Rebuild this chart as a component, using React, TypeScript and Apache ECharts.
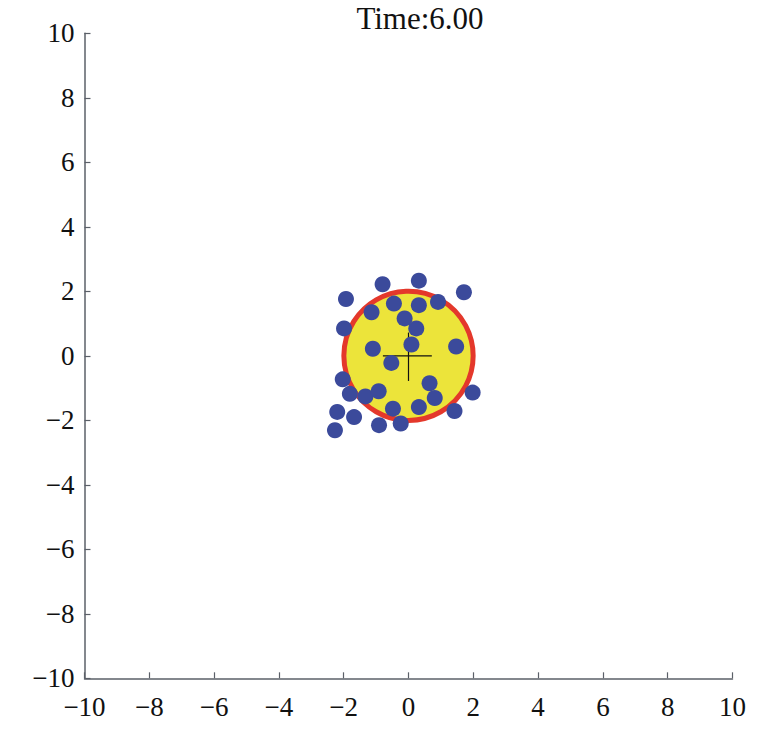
import React, { useEffect, useRef } from "react";
import * as echarts from "echarts";

const titleText = "Time:6.00";
const axisMin = -10;
const axisMax = 10;
const axisStep = 2;

const agentsX = [-0.8, 0.32, 1.71, -1.93, -0.45, 0.32, 0.91, -1.14, -0.12, 0.24, -1.99, 0.09, -1.1, 1.47, -0.53, -2.03, 0.65, -1.81, -1.33, -0.92, 0.81, 1.98, -2.2, -1.68, -0.48, 0.32, 1.42, -2.27, -0.91, -0.24];
const agentsY = [2.22, 2.33, 1.97, 1.76, 1.62, 1.57, 1.67, 1.35, 1.16, 0.85, 0.85, 0.35, 0.22, 0.29, -0.22, -0.73, -0.85, -1.18, -1.26, -1.1, -1.31, -1.14, -1.74, -1.9, -1.64, -1.59, -1.71, -2.31, -2.15, -2.1];

const circleCenter = [0, 0];
const circleRadius = 2;

const crossH = [[-0.79, 0], [0.72, 0]];
const crossV = [[0, -0.78], [0, 0.72]];

const fmt = (v: number) => String(v).replace("-", "\u2212");

export default function App() {
  const ref = useRef<HTMLDivElement>(null);
  useEffect(() => {
    if (!ref.current) return;
    const chart = echarts.init(ref.current, null, { renderer: "svg" });
    const axisCommon = {
      type: "value" as const,
      min: axisMin,
      max: axisMax,
      interval: axisStep,
      axisLine: { show: true, onZero: false, lineStyle: { color: "#5b6068", width: 1.5 } },
      axisTick: { show: true, inside: true, length: 6, lineStyle: { color: "#5b6068", width: 1.2 } },
      splitLine: { show: false },
      axisLabel: {
        formatter: fmt,
        color: "#111",
        fontFamily: "'Liberation Serif', 'Times New Roman', serif",
        fontSize: 27,
      },
    };
    const points = agentsX.map((x, i) => [x, agentsY[i]]);
    chart.setOption({
      animation: false,
      backgroundColor: "#ffffff",
      grid: { left: 84.5, right: 49.5, top: 33.3, bottom: 58.7, containLabel: false },
      xAxis: { ...axisCommon, axisLabel: { ...axisCommon.axisLabel, margin: 15 } },
      yAxis: { ...axisCommon, axisLabel: { ...axisCommon.axisLabel, margin: 10 } },
      graphic: [
        {
          type: "text",
          x: 420,
          y: 18,
          style: {
            text: titleText,
            font: "31px 'Liberation Serif', 'Times New Roman', serif",
            fill: "#111",
            textAlign: "center",
            textVerticalAlign: "middle",
          },
        },
      ],
      series: [
        {
          type: "custom",
          z: 1,
          data: [[circleCenter[0], circleCenter[1], circleRadius]],
          renderItem: (params: any, api: any) => {
            const c = api.coord([api.value(0), api.value(1)]);
            const s = api.size([api.value(2), api.value(2)]);
            const r = (s[0] + s[1]) / 2;
            return {
              type: "circle",
              shape: { cx: c[0], cy: c[1], r },
              style: { fill: "#ece43a", stroke: "#e4382b", lineWidth: 5 },
            };
          },
        },
        {
          type: "line",
          z: 2,
          data: crossH,
          symbol: "none",
          lineStyle: { color: "#111", width: 1.2 },
        },
        {
          type: "line",
          z: 2,
          data: crossV,
          symbol: "none",
          lineStyle: { color: "#111", width: 1.2 },
        },
        {
          type: "scatter",
          z: 3,
          data: points,
          symbolSize: 16,
          itemStyle: { color: "#3b4a9b", opacity: 1 },
        },
      ],
    });
    return () => chart.dispose();
  }, []);
  return (
    <div
      ref={ref}
      style={{ position: "fixed", left: 0, top: 0, width: 782, height: 737, background: "#fff" }}
    />
  );
}
